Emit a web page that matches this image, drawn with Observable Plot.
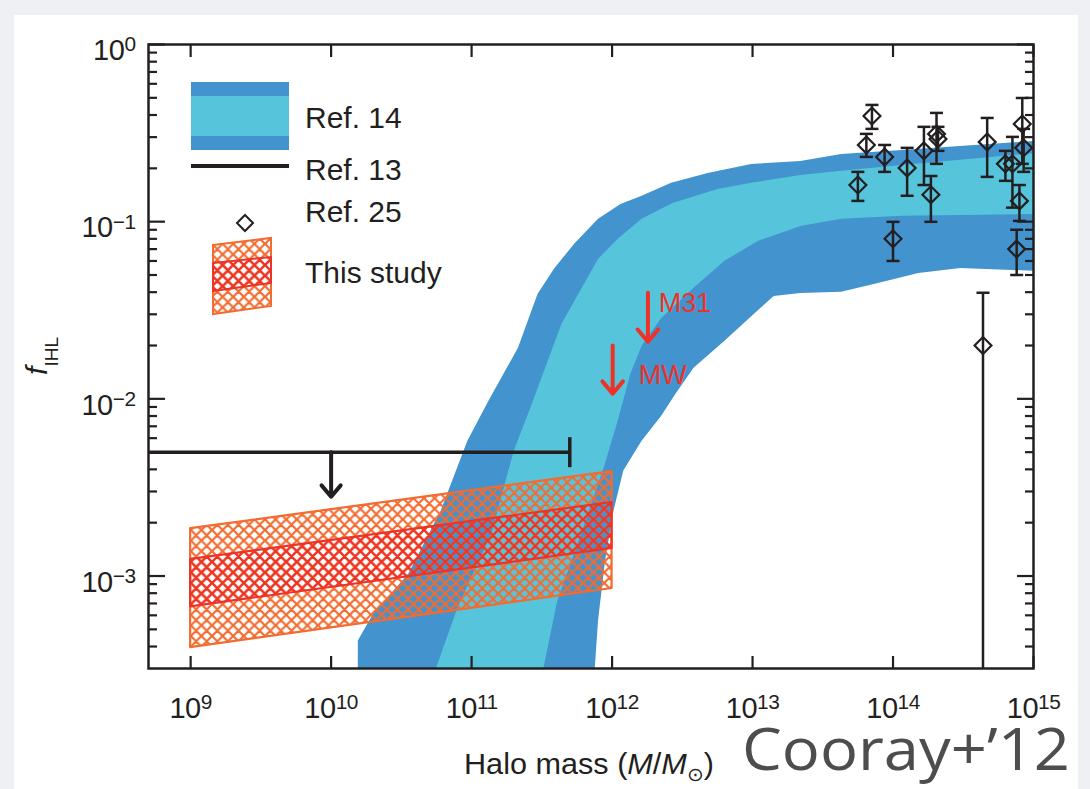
<!DOCTYPE html>
<html>
<head>
<meta charset="utf-8">
<script src="https://cdn.jsdelivr.net/npm/d3@7"></script>
<script src="https://cdn.jsdelivr.net/npm/@observablehq/plot@0.6"></script>
<style>
html, body { margin: 0; padding: 0; }
body { width: 1090px; height: 789px; background: #eef0f3; position: relative; overflow: hidden;
       font-family: "Liberation Sans", Arial, sans-serif; color: #231f20; }
#panel { position: absolute; left: 14px; top: 15px; width: 1064px; height: 774px; background: #ffffff; }
#chart { position: absolute; left: 0; top: 0; }
#overlay { position: absolute; left: 0; top: 0; pointer-events: none; }
</style>
</head>
<body>
<svg width="0" height="0" style="position:absolute">
  <defs>
    <pattern id="hatchOrange" patternUnits="userSpaceOnUse" width="10.6" height="10.6">
      <path d="M-10.6,0L0,10.6M0,0L10.6,10.6M10.6,0L21.2,10.6M10.6,0L0,10.6M21.2,0L10.6,10.6M0,0L-10.6,10.6" stroke="#f26b30" stroke-width="2.2" fill="none"/>
    </pattern>
    <pattern id="hatchRed" patternUnits="userSpaceOnUse" width="10.6" height="10.6">
      <path d="M-10.6,0L0,10.6M0,0L10.6,10.6M10.6,0L21.2,10.6M10.6,0L0,10.6M21.2,0L10.6,10.6M0,0L-10.6,10.6" stroke="#ed3327" stroke-width="2.2" fill="none"/>
    </pattern>
  </defs>
</svg>
<div id="panel"></div>
<div id="chart"></div>
<svg id="overlay" width="1090" height="789">
  <!-- legend -->
  <rect x="191" y="82" width="98" height="68" fill="#4393cf"/>
  <rect x="191" y="96" width="98" height="40" fill="#56c5db"/>
  <text x="305" y="128" font-size="30" fill="#231f20">Ref. 14</text>
  <line x1="191" x2="289" y1="166" y2="166" stroke="#231f20" stroke-width="4"/>
  <text x="305" y="180" font-size="30" fill="#231f20">Ref. 13</text>
  <path d="M245,215L253,223L245,231L237,223Z" fill="none" stroke="#231f20" stroke-width="2"/>
  <text x="305" y="222" font-size="30" fill="#231f20">Ref. 25</text>
  <polygon points="213,245 271,238 271,306 213,314" fill="url(#hatchOrange)" stroke="#f26b30" stroke-width="2"/>
  <polygon points="213,263 271,257 271,283 213,291" fill="url(#hatchRed)" stroke="#ed3327" stroke-width="2"/>
  <text x="305" y="283" font-size="30" fill="#231f20">This study</text>
  <!-- axis titles -->
  <text transform="translate(47,356) rotate(-90)" text-anchor="middle" fill="#231f20"><tspan font-style="italic" font-size="30">f</tspan><tspan font-size="19" dy="11">IHL</tspan></text>
  <text x="589" y="774" text-anchor="middle" font-size="29" fill="#231f20" textLength="250" lengthAdjust="spacingAndGlyphs">Halo mass (<tspan font-style="italic">M</tspan>/<tspan font-style="italic">M</tspan><tspan font-size="19" dy="7">⊙</tspan><tspan dy="-7">)</tspan></text>
  <text x="742" y="770" font-family="Open Sans" font-size="58" fill="#4d4d4d" textLength="328" lengthAdjust="spacingAndGlyphs">Cooray+’12</text>
</svg>
<script>
// ---------------- data ----------------
const massTicks = [1e9, 1e10, 1e11, 1e12, 1e13, 1e14, 1e15];
const fTicks = [1e-3, 1e-2, 1e-1, 1];
const fMinorTicks = [4e-4, 5e-4, 6e-4, 7e-4, 8e-4, 9e-4,
  2e-3, 3e-3, 4e-3, 5e-3, 6e-3, 7e-3, 8e-3, 9e-3,
  2e-2, 3e-2, 4e-2, 5e-2, 6e-2, 7e-2, 8e-2, 9e-2,
  0.2, 0.3, 0.4, 0.5, 0.6, 0.7, 0.8, 0.9];
const massDomain = [10 ** 8.70, 1e15];
const fDomain = [10 ** -3.522, 1];

// Ref. 14 model band edges, [log10 M, log10 f]
const ref14OuterUpper = [[10.19,-3.60],[10.19,-3.364],[10.30,-3.212],[10.55,-2.986],[10.78,-2.631],[10.97,-2.236],[11.12,-2.011],[11.33,-1.712],[11.47,-1.407],[11.59,-1.261],[11.73,-1.125],[11.90,-0.984],[12.06,-0.900],[12.21,-0.854],[12.42,-0.781],[12.68,-0.725],[12.99,-0.674],[13.34,-0.657],[13.63,-0.618],[14.06,-0.595],[15.02,-0.544]];
const ref14OuterLower = [[11.87,-3.60],[11.90,-3.251],[11.95,-2.913],[12.01,-2.631],[12.08,-2.405],[12.21,-2.236],[12.35,-2.095],[12.45,-1.972],[12.58,-1.824],[12.80,-1.672],[13.01,-1.520],[13.15,-1.419],[13.34,-1.402],[13.63,-1.396],[13.87,-1.351],[14.18,-1.289],[14.48,-1.261],[15.02,-1.278]];
const ref14InnerUpper = [[10.71,-3.60],[10.90,-3.178],[11.14,-2.761],[11.30,-2.293],[11.41,-2.067],[11.64,-1.576],[11.76,-1.407],[11.90,-1.210],[12.04,-1.097],[12.21,-0.984],[12.43,-0.894],[12.75,-0.815],[12.99,-0.781],[13.34,-0.736],[13.63,-0.713],[14.06,-0.680],[15.02,-0.612]];
const ref14InnerLower = [[11.49,-3.60],[11.61,-3.139],[11.78,-2.761],[11.94,-2.389],[12.04,-2.124],[12.13,-1.858],[12.21,-1.700],[12.35,-1.543],[12.58,-1.373],[12.80,-1.221],[13.04,-1.108],[13.34,-1.024],[13.63,-0.984],[14.06,-0.967],[15.02,-0.956]];

// Ref. 13 upper limit
const ref13Limit = [{massMin: 1e8, massMax: 5e11, f: 5e-3, arrowMass: 1e10, arrowTip: 2.8e-3}];

// Ref. 25 clusters
const ref25Mass = [7.08e13, 6.46e13, 5.62e13, 8.71e13, 1.0e14, 1.26e14, 1.66e14, 1.86e14, 2.04e14, 2.09e14, 4.68e14, 6.31e14, 7.08e14, 8.32e14, 8.51e14, 7.94e14, 7.59e14, 4.37e14];
const ref25F    = [0.395, 0.271, 0.161, 0.232, 0.080, 0.201, 0.251, 0.142, 0.313, 0.293, 0.282, 0.212, 0.212, 0.356, 0.261, 0.131, 0.070, 0.020];
const ref25Hi   = [0.456, 0.313, 0.191, 0.271, 0.0998, 0.261, 0.343, 0.181, 0.411, 0.343, 0.385, 0.251, 0.301, 0.499, 0.334, 0.161, 0.090, 0.0397];
const ref25Lo   = [0.334, 0.232, 0.131, 0.191, 0.060, 0.140, 0.161, 0.0998, 0.212, 0.251, 0.179, 0.170, 0.120, 0.212, 0.191, 0.101, 0.050, 1e-5];

// This study
const studyMass    = [1e9, 1e12];
const studyOuterLo = [3.94e-4, 8.5e-4];
const studyOuterHi = [1.85e-3, 3.88e-3];
const studyInnerLo = [6.7e-4, 1.43e-3];
const studyInnerHi = [1.24e-3, 2.6e-3];

// Upper limits for M31 and MW
const limitNames = ["M31", "MW"];
const limitMass = [1.8e12, 1.01e12];
const limitTop  = [0.0397, 0.020];
const limitTip  = [0.021, 0.0107];
const limitLabelMass = [2.15e12, 1.55e12];
const limitLabelF = [0.0344, 0.0135];

// ---------------- build ----------------
const INK = "#231f20", DARK = "#4393cf", LIGHT = "#56c5db", ORANGE = "#f26b30", RED = "#ed3327";
const toPts = (a) => a.map(([m, f]) => ({mass: 10 ** m, f: 10 ** f}));
const darkPoly = [...toPts(ref14OuterUpper), ...toPts(ref14OuterLower).reverse()];
const lightPoly = [...toPts(ref14InnerUpper), ...toPts(ref14InnerLower).reverse()];
const ref25 = ref25Mass.map((m, i) => ({mass: m, f: ref25F[i], hi: ref25Hi[i], lo: ref25Lo[i]}));
const outer = studyMass.map((m, i) => ({mass: m, lo: studyOuterLo[i], hi: studyOuterHi[i]}));
const inner = studyMass.map((m, i) => ({mass: m, lo: studyInnerLo[i], hi: studyInnerHi[i]}));
const limits = limitNames.map((n, i) => ({name: n, mass: limitMass[i], top: limitTop[i], tip: limitTip[i], lm: limitLabelMass[i], lf: limitLabelF[i]}));

const hbar = {draw(ctx, size) { const r = Math.sqrt(size / Math.PI); ctx.moveTo(-r, 0); ctx.lineTo(r, 0); }};
const vbar = {draw(ctx, size) { const r = Math.sqrt(size / Math.PI); ctx.moveTo(0, -r); ctx.lineTo(0, r); }};
const fmt = (d) => "10^" + Math.round(Math.log10(d));

const plot = Plot.plot({
  width: 1090, height: 789,
  marginLeft: 148, marginRight: 57, marginTop: 44, marginBottom: 121,
  x: {type: "log", domain: massDomain, label: null},
  y: {type: "log", domain: fDomain, label: null},
  style: {background: "transparent", fontFamily: "'Liberation Sans', Arial, sans-serif", color: INK, overflow: "visible"},
  marks: [
    Plot.line(darkPoly, {x: "mass", y: "f", fill: DARK, stroke: "none", clip: true}),
    Plot.line(lightPoly, {x: "mass", y: "f", fill: LIGHT, stroke: "none", clip: true}),
    Plot.areaY(outer, {x: "mass", y1: "lo", y2: "hi", fill: "url(#hatchOrange)", stroke: ORANGE, strokeWidth: 2.2}),
    Plot.areaY(inner, {x: "mass", y1: "lo", y2: "hi", fill: "url(#hatchRed)", stroke: RED, strokeWidth: 2.2}),
    Plot.ruleY(ref13Limit, {y: "f", x1: "massMin", x2: "massMax", stroke: INK, strokeWidth: 3.5, clip: true}),
    Plot.dot(ref13Limit, {x: "massMax", y: "f", symbol: vbar, r: 15, stroke: INK, strokeWidth: 3.5}),
    Plot.arrow(ref13Limit, {x1: "arrowMass", x2: "arrowMass", y1: "f", y2: "arrowTip", stroke: INK, strokeWidth: 4, headAngle: 80, headLength: 6}),
    Plot.arrow(limits, {x1: "mass", x2: "mass", y1: "top", y2: "tip", stroke: RED, strokeWidth: 4, headAngle: 80, headLength: 6}),
    Plot.text(limits, {x: "lm", y: "lf", text: "name", textAnchor: "start", fill: RED, fontSize: 27}),
    Plot.ruleX(ref25, {x: "mass", y1: "lo", y2: "hi", stroke: INK, strokeWidth: 2.5, clip: true}),
    Plot.dot(ref25, {x: "mass", y: "hi", symbol: hbar, r: 6.5, stroke: INK, strokeWidth: 2.5, clip: true}),
    Plot.dot(ref25, {x: "mass", y: "lo", symbol: hbar, r: 6.5, stroke: INK, strokeWidth: 2.5, clip: true}),
    Plot.dot(ref25, {x: "mass", y: "f", symbol: "diamond2", r: 7.6, stroke: INK, strokeWidth: 2.2, fill: "none"}),
    // axes: inward ticks
    Plot.axisY(fTicks, {anchor: "left", tickSize: -17, fill: "none", stroke: INK, strokeWidth: 2.2, label: null}),
    Plot.axisY(fMinorTicks, {anchor: "left", tickSize: -9, fill: "none", stroke: INK, strokeWidth: 2.2, label: null}),
    Plot.axisY(fTicks, {anchor: "right", tickSize: -17, fill: "none", stroke: INK, strokeWidth: 2.2, label: null}),
    Plot.axisY(fMinorTicks, {anchor: "right", tickSize: -9, fill: "none", stroke: INK, strokeWidth: 2.2, label: null}),
    Plot.axisX(massTicks, {anchor: "bottom", tickSize: -12, fill: "none", stroke: INK, strokeWidth: 2.2, label: null}),
    Plot.axisX(massTicks, {anchor: "top", tickSize: -12, fill: "none", stroke: INK, strokeWidth: 2.2, label: null}),
    // axes: labels
    Plot.axisY(fTicks, {anchor: "left", tickSize: 0, tickPadding: 13, tickFormat: fmt, fill: INK, label: null}),
    Plot.axisX(massTicks, {anchor: "bottom", tickSize: 0, tickPadding: 29, tickFormat: fmt, fill: INK, label: null}),
    Plot.frame({stroke: INK, strokeWidth: 2.5})
  ]
});

// superscript exponents in tick labels, at full label size
plot.querySelectorAll('g[aria-label$="tick label"]').forEach((g) => {
  g.setAttribute("font-size", "29");
  g.style.fontSize = "29px";
});
plot.querySelectorAll('g[aria-label$="tick label"] text').forEach((t) => {
  const m = t.textContent.match(/^10\^(-?\d+)$/);
  if (!m) return;
  t.style.fontSize = "29px";
  t.style.letterSpacing = "-0.5px";
  t.textContent = "10";
  const sup = document.createElementNS("http://www.w3.org/2000/svg", "tspan");
  sup.setAttribute("dy", "-0.42em");
  sup.setAttribute("font-size", "0.72em");
  sup.textContent = m[1].replace("-", "\u2212");
  t.appendChild(sup);
});
plot.querySelectorAll('g[aria-label="y-axis tick label"] text').forEach((t) => {
  t.setAttribute("dy", "0.22em");
});

document.getElementById("chart").appendChild(plot);
</script>
</body>
</html>
